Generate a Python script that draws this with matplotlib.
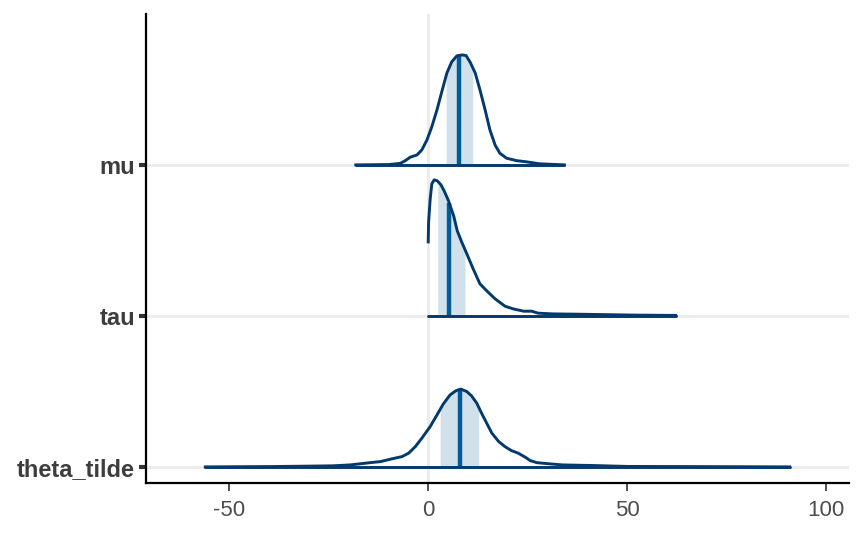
import numpy as np
import matplotlib
matplotlib.use("Agg")
import matplotlib.pyplot as plt

plt.rcParams["font.family"] = ["Liberation Sans", "DejaVu Sans"]

# parameters, bottom to top
params = ["theta_tilde", "tau", "mu"]

# density outlines (x, scaled density)
mu_x = [-18.2, -10, -7, -5.75, -4.5, -2.8, -1.6, -0.3, 0.9, 2.2, 3.4, 4.7,
        5.9, 7.2, 8.5, 9.5, 10.5, 11.8, 13, 14.3, 15.5, 16.8, 18, 19.7, 22.2,
        24.7, 28, 34.2]
mu_d = [0, 0.002, 0.010, 0.028, 0.051, 0.066, 0.099, 0.166, 0.252, 0.364,
        0.483, 0.609, 0.682, 0.722, 0.728, 0.724, 0.682, 0.609, 0.497, 0.364,
        0.232, 0.132, 0.077, 0.044, 0.028, 0.020, 0.007, 0]

tau_x = [0, 0.1, 0.5, 0.9, 1.5, 2.3, 3.2, 4, 5.1, 6.4, 7.3, 8.4, 9.7, 11.3,
         13, 14.7, 16.8, 19.3, 21.4, 24, 26, 27.6, 31.3, 38, 45, 52, 62.2]
tau_d = [0.490, 0.623, 0.775, 0.874, 0.901, 0.894, 0.868, 0.828, 0.762, 0.662,
         0.563, 0.490, 0.411, 0.311, 0.212, 0.166, 0.113, 0.064, 0.046, 0.031,
         0.031, 0.018, 0.013, 0.011, 0.008, 0.005, 0.003]

theta_x = [-56, -40, -30, -24, -19.6, -14.6, -12, -9.5, -6.6, -4.9, -3.25,
           -1.6, 0.5, 2.2, 3.8, 5.5, 7, 8.2, 9.7, 10.9, 12.2, 13.4, 14.7, 16,
           17.7, 19.3, 20.9, 22.6, 24.4, 25.6, 27.3, 30.6, 33.8, 41.5, 50, 65,
           90.8]
theta_d = [0, 0.002, 0.005, 0.007, 0.013, 0.028, 0.035, 0.051, 0.068, 0.091,
           0.134, 0.190, 0.267, 0.344, 0.417, 0.477, 0.505, 0.515, 0.499,
           0.470, 0.422, 0.356, 0.289, 0.223, 0.168, 0.134, 0.108, 0.091,
           0.064, 0.042, 0.028, 0.020, 0.013, 0.009, 0.003, 0.002, 0]

# inner interval (low, high) and median
intervals = {"mu": (4.5, 11.2), "tau": (2.4, 9.25), "theta_tilde": (3.0, 12.7)}
medians = {"mu": 7.8, "tau": 5.3, "theta_tilde": 7.9}

curves = {"mu": (mu_x, mu_d), "tau": (tau_x, tau_d),
          "theta_tilde": (theta_x, theta_d)}

line_col = "#03396c"
fill_col = "#d1e1ec"
med_col = "#005b96"
grid_col = "#ebebeb"

fig = plt.figure(figsize=(8.64, 5.33), dpi=100)
ax = fig.add_axes([0.169, 0.094, 0.814, 0.880])

ax.axvline(0, color=grid_col, lw=2, zorder=0)

for i, name in enumerate(params):
    base = i + 1
    ax.axhline(base, color=grid_col, lw=2, zorder=0)
    x = np.asarray(curves[name][0], dtype=float)
    d = np.asarray(curves[name][1], dtype=float)
    lo, hi = intervals[name]
    inner = (x > lo) & (x < hi)
    fx = np.concatenate([[lo], x[inner], [hi]])
    fd = np.interp(fx, x, d)
    ax.fill_between(fx, base, base + fd, color=fill_col, lw=0, zorder=1)
    med = medians[name]
    ax.plot([med, med], [base, base + np.interp(med, x, d)],
            color=med_col, lw=3.2, solid_capstyle="butt", zorder=2)
    ax.plot(x, base + d, color=line_col, lw=2.1, zorder=3,
            solid_joinstyle="round")
    ax.plot([x[0], x[-1]], [base, base], color=line_col, lw=2.1, zorder=3,
            solid_capstyle="round")

ax.set_xlim(-70.9, 105.8)
ax.set_ylim(0.894, 4.0)
ax.set_xticks([-50, 0, 50, 100])
ax.set_xticklabels(["-50", "0", "50", "100"])
ax.set_yticks([1, 2, 3])
ax.set_yticklabels(params, fontweight="bold")

for side in ["top", "right"]:
    ax.spines[side].set_visible(False)
for side in ["left", "bottom"]:
    ax.spines[side].set_linewidth(1.6)
    ax.spines[side].set_color("black")

ax.tick_params(axis="x", length=6, width=1.2, color="#333333",
               labelsize=16, labelcolor="#4d4d4d", pad=6)
ax.tick_params(axis="y", length=5, width=3, color="#333333",
               labelsize=17, labelcolor="#3d3d3d", pad=3)

fig.savefig("out.png", dpi=100)
